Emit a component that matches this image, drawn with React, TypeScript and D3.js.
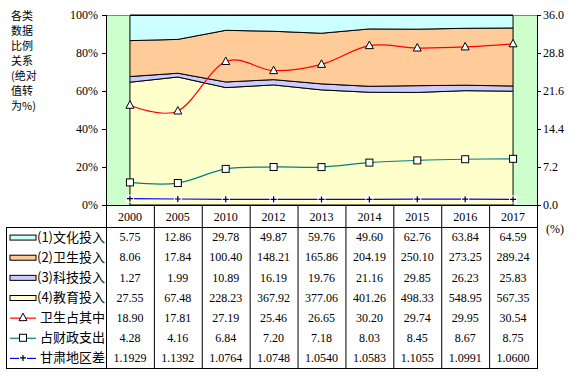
import React from "react";
import * as d3 from "d3";

const years = ["2000", "2005", "2010", "2012", "2013", "2014", "2015", "2016", "2017"];
const culture = [5.75, 12.86, 29.78, 49.87, 59.76, 49.6, 62.76, 63.84, 64.59];
const health = [8.06, 17.84, 100.4, 148.21, 165.86, 204.19, 250.1, 273.25, 289.24];
const tech = [1.27, 1.99, 10.89, 16.19, 19.76, 21.16, 29.85, 26.23, 25.83];
const edu = [27.55, 67.48, 228.23, 367.92, 377.06, 401.26, 498.33, 548.95, 567.35];
const healthShare = [18.9, 17.81, 27.19, 25.46, 26.65, 30.2, 29.74, 29.95, 30.54];
const fiscalShare = [4.28, 4.16, 6.84, 7.2, 7.18, 8.03, 8.45, 8.67, 8.75];
const gansuDiff = [1.1929, 1.1392, 1.0764, 1.0748, 1.054, 1.0583, 1.1055, 1.0991, 1.06];

const leftTicks = [0, 0.2, 0.4, 0.6, 0.8, 1.0];
const rightTicks = [0, 7.2, 14.4, 21.6, 28.8, 36.0];
const sideTitle = ["各类", "数据", "比例", "关系", "(绝对", "值转", "为%)"];

const areaSeries = [
  { key: "edu", label: "(4)教育投入", values: edu, fill: "#FFFFCC" },
  { key: "tech", label: "(3)科技投入", values: tech, fill: "#CCCCFF" },
  { key: "health", label: "(2)卫生投入", values: health, fill: "#FFCC99" },
  { key: "culture", label: "(1)文化投入", values: culture, fill: "#CCFFFF" },
];

const lineSeries = [
  { key: "hs", label: "卫生占其中", values: healthShare, color: "#FF0000", marker: "tri", fmt: (v: number) => v.toFixed(2), smooth: true },
  { key: "fs", label: "占财政支出", values: fiscalShare, color: "#008080", marker: "sq", fmt: (v: number) => v.toFixed(2), smooth: true },
  { key: "gd", label: "甘肃地区差", values: gansuDiff, color: "#0000FF", marker: "plus", fmt: (v: number) => v.toFixed(4), smooth: false },
];

const W = 577, H = 376;
const pl = 106, pr = 537, pt = 15, pb = 205;
const tableTop = 205, headerBottom = 227, tableBottom = 368, tableLeft = 6;

const serif = "'Liberation Serif', 'Times New Roman', serif";
const cjk = "'Noto Sans CJK SC', sans-serif";

function Marker({ type, x, y }: { type: string; x: number; y: number }) {
  if (type === "tri") {
    return <path d={`M${x},${y - 4.5}L${x + 4},${y + 3}L${x - 4},${y + 3}Z`} fill="#fff" stroke="#000" strokeWidth={1} />;
  }
  if (type === "sq") {
    return <rect x={x - 3.5} y={y - 3.5} width={7} height={7} fill="#fff" stroke="#000" strokeWidth={1} />;
  }
  return (
    <g>
      <rect x={x - 4} y={y - 4} width={8} height={8} fill="#fff" />
      <path d={`M${x - 3},${y}H${x + 3}M${x},${y - 3}V${y + 3}`} stroke="#000" strokeWidth={1.2} />
    </g>
  );
}

export default function App() {
  const x = d3.scaleBand<string>().domain(years).range([pl, pr]).paddingInner(0).paddingOuter(0);
  const bw = x.bandwidth();
  const cx = (y: string) => (x(y) as number) + bw / 2;
  const yL = d3.scaleLinear().domain([0, 1]).range([pb, pt]);
  const yR = d3.scaleLinear().domain([0, 36]).range([pb, pt]);

  const rows = years.map((yr, i) => {
    const r: any = { year: yr };
    areaSeries.forEach((s) => (r[s.key] = s.values[i]));
    return r;
  });
  const stacked = d3.stack<any>().keys(areaSeries.map((s) => s.key)).offset(d3.stackOffsetExpand)(rows);
  const area = d3
    .area<any>()
    .x((d) => cx(d.data.year))
    .y0((d) => yL(d[0]))
    .y1((d) => yL(d[1]));

  const rowH = (tableBottom - headerBottom) / 7;
  const tableRows = [...areaSeries].reverse().map((s) => ({ kind: "area", ...s })).concat(
    lineSeries.map((s) => ({ kind: "line", ...s })) as any
  ) as any[];

  const boundaries = years.map((y) => x(y) as number).concat([pr]);

  return (
    <svg width={W} height={H} style={{ position: "absolute", left: 0, top: 0, background: "#fff" }}>
      <rect x={pl} y={pt} width={pr - pl} height={pb - pt} fill="#CCFFCC" />
      {stacked.map((s, i) => (
        <path key={s.key} d={area(s) || ""} fill={areaSeries[i].fill} stroke="#000" strokeWidth={1} />
      ))}
      <line x1={pl} x2={pr} y1={pt + 0.5} y2={pt + 0.5} stroke="#808080" />
      <line x1={cx(years[0])} x2={cx(years[years.length - 1])} y1={pt + 0.5} y2={pt + 0.5} stroke="#000" />
      {lineSeries.map((s) => {
        const line = d3
          .line<number>()
          .x((_, i) => cx(years[i]))
          .y((v) => yR(v))
          .curve(s.smooth ? d3.curveCatmullRom.alpha(0) : d3.curveLinear);
        return (
          <g key={s.key}>
            <path d={line(s.values) || ""} fill="none" stroke={s.color} strokeWidth={1.2} />
            {s.values.map((v, i) => (
              <Marker key={i} type={s.marker} x={cx(years[i])} y={yR(v)} />
            ))}
          </g>
        );
      })}
      <line x1={pl + 0.5} x2={pl + 0.5} y1={pt} y2={pb} stroke="#000" />
      <line x1={pr + 0.5} x2={pr + 0.5} y1={pt} y2={pb} stroke="#000" />
      <line x1={pl} x2={pr} y1={pb + 0.5} y2={pb + 0.5} stroke="#000" />
      {leftTicks.map((t) => (
        <g key={t}>
          <line x1={pl - 4} x2={pl} y1={Math.round(yL(t)) + 0.5} y2={Math.round(yL(t)) + 0.5} stroke="#000" />
          <text x={98} y={yL(t)} dy="0.35em" textAnchor="end" fontFamily={serif} fontSize={12} fill="#000">
            {d3.format(".0%")(t)}
          </text>
        </g>
      ))}
      {rightTicks.map((t) => (
        <g key={t}>
          <line x1={pr} x2={pr + 4} y1={Math.round(yR(t)) + 0.5} y2={Math.round(yR(t)) + 0.5} stroke="#000" />
          <text x={543} y={yR(t)} dy="0.35em" textAnchor="start" fontFamily={serif} fontSize={12} fill="#000">
            {t.toFixed(1)}
          </text>
        </g>
      ))}
      <text x={546} y={229} dy="0.35em" fontFamily={serif} fontSize={12} fill="#000">(%)</text>
      {sideTitle.map((t, i) => (
        <text key={i} x={11} y={16 + i * 15} dy="0.35em" fontFamily={cjk} fontSize={11} fill="#000">
          {t}
        </text>
      ))}
      {boundaries.map((b, i) => (
        <line key={i} x1={b + 0.5} x2={b + 0.5} y1={tableTop} y2={tableBottom} stroke="#000" />
      ))}
      <line x1={tableLeft + 0.5} x2={tableLeft + 0.5} y1={headerBottom} y2={tableBottom} stroke="#000" />
      <line x1={tableLeft} x2={pr + 1} y1={headerBottom + 0.5} y2={headerBottom + 0.5} stroke="#000" />
      <line x1={tableLeft} x2={pr + 1} y1={tableBottom + 0.5} y2={tableBottom + 0.5} stroke="#000" />
      {years.map((yr) => (
        <text key={yr} x={cx(yr)} y={(tableTop + headerBottom) / 2 + 1} dy="0.35em" textAnchor="middle" fontFamily={serif} fontSize={12} fill="#000">
          {yr}
        </text>
      ))}
      {tableRows.map((r, ri) => {
        const yc = headerBottom + rowH * (ri + 0.5);
        return (
          <g key={r.key}>
            {r.kind === "area" ? (
              <rect x={10} y={yc - 2} width={26} height={5} fill={r.fill} stroke="#000" strokeWidth={1} />
            ) : (
              <g>
                <line x1={10} x2={36} y1={yc + 0.5} y2={yc + 0.5} stroke={r.color} strokeWidth={1.2} />
                <Marker type={r.marker} x={23} y={yc} />
              </g>
            )}
            <text x={r.kind === "area" ? 37 : 40} y={yc} dy="0.35em" fontFamily={cjk} fontSize={13} fill="#000">
              {r.label}
            </text>
            {r.values.map((v: number, i: number) => (
              <text key={i} x={cx(years[i])} y={yc} dy="0.35em" textAnchor="middle" fontFamily={serif} fontSize={12} fill="#000">
                {r.kind === "area" ? v.toFixed(2) : r.fmt(v)}
              </text>
            ))}
          </g>
        );
      })}
    </svg>
  );
}
